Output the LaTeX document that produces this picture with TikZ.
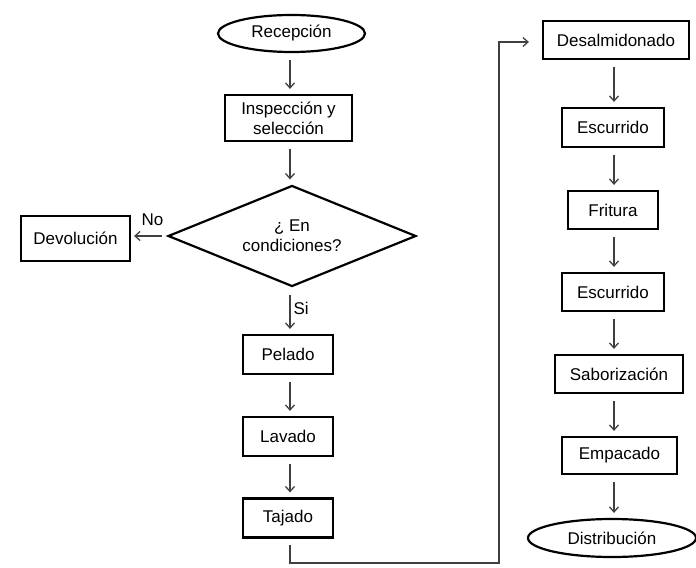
\documentclass[tikz,border=0pt]{standalone}
\usepackage{fontspec}
\setmainfont{Liberation Sans}
\usetikzlibrary{shapes.geometric,arrows.meta}
\begin{document}
\begin{tikzpicture}[x=1bp,y=-1bp,
  every node/.style={font=\fontsize{17bp}{20bp}\selectfont, inner sep=0pt},
  proc/.style={draw=black, line width=2.2bp, rectangle, align=center},
  term/.style={draw=black, line width=2.2bp, ellipse},
  decis/.style={draw=black, line width=2.2bp, diamond, aspect=2.455, align=center},
  arr/.style={draw=black!75, line width=1.3bp, -{Straight Barb[length=5bp,width=9bp]}, shorten <=7bp, shorten >=5bp},
  lbl/.style={font=\fontsize{17bp}{20bp}\selectfont}
]
\useasboundingbox (0,0) rectangle (696,568);
\coordinate (colL) at (290,0);
\coordinate (colR) at (614,0);
% left column
\node[term, minimum width=147bp, minimum height=37bp] (rec) at (291.5,33.5) {Recepción};
\node[proc, minimum width=127bp, minimum height=46bp] (insp) at (288.5,118) {Inspección y\\selección};
\node[decis, minimum width=248bp, minimum height=101bp] (cond) at (292,236) {¿ En\\condiciones?};
\node[proc, minimum width=109bp, minimum height=45bp] (dev) at (75.5,238.5) {Devolución};
\node[proc, minimum width=90bp, minimum height=39bp] (pel) at (288,354.5) {Pelado};
\node[proc, minimum width=90bp, minimum height=39bp] (lav) at (288,436.5) {Lavado};
\node[proc, minimum width=90bp, minimum height=39bp] (taj) at (288,518) {Tajado};
% right column
\node[proc, minimum width=146bp, minimum height=38bp] (des) at (616,40) {Desalmidonado};
\node[proc, minimum width=102bp, minimum height=39bp] (esc1) at (613,127.5) {Escurrido};
\node[proc, minimum width=90bp, minimum height=38bp] (fri) at (613,210) {Fritura};
\node[proc, minimum width=102bp, minimum height=38bp] (esc2) at (613,292) {Escurrido};
\node[proc, minimum width=128bp, minimum height=38bp] (sab) at (619,374) {Saborización};
\node[proc, minimum width=115bp, minimum height=37bp] (emp) at (619.5,455.5) {Empacado};
\node[term, minimum width=168bp, minimum height=38bp] (dis) at (612,538) {Distribución};
% connectors left
\draw[arr] (rec.south -| colL) -- (insp.north -| colL);
\draw[arr] (insp.south -| colL) -- (cond.north -| colL);
\draw[arr, shorten <=5bp, shorten >=3bp] (cond.west) -- (dev.east |- cond.west) node[lbl, pos=0.4, above=10bp] (no) {No};
\draw[arr] (cond.south -| colL) -- (pel.north -| colL) node[lbl, pos=0.45, right=3bp] (si) {Si};
\draw[arr] (pel.south -| colL) -- (lav.north -| colL);
\draw[arr] (lav.south -| colL) -- (taj.north -| colL);
\coordinate (b1) at (290,563);
\coordinate (b2) at (499,563);
\coordinate (b3) at (499,42);
\draw[arr, shorten <=6bp, shorten >=13bp] (taj.south -| colL) -- (b1) -- (b2) -- (b3) -- (des.west |- b3);
% connectors right
\draw[arr] (des.south -| colR) -- (esc1.north -| colR);
\draw[arr] (esc1.south -| colR) -- (fri.north -| colR);
\draw[arr] (fri.south -| colR) -- (esc2.north -| colR);
\draw[arr] (esc2.south -| colR) -- (sab.north -| colR);
\draw[arr] (sab.south -| colR) -- (emp.north -| colR);
\draw[arr] (emp.south -| colR) -- (dis.north -| colR);
\end{tikzpicture}
\end{document}
